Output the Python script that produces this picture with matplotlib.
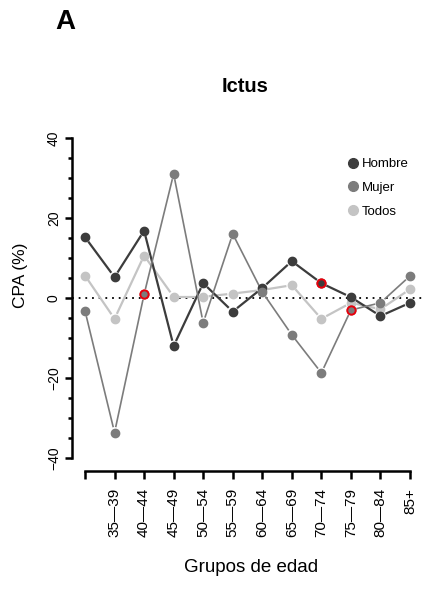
import matplotlib
matplotlib.use('Agg')
import matplotlib.pyplot as plt
import numpy as np
from matplotlib.lines import Line2D

# age groups (first group has no printed label in the original)
grupos = ['', '35—39', '40—44', '45—49', '50—54', '55—59', '60—64',
          '65—69', '70—74', '75—79', '80—84', '85+']

# CPA (%) by age group
hombre = [15.2, 5.2, 16.8, -12.0, 3.7, -3.4, 2.5, 9.2, 3.7, 0.2, -4.5, -1.2]
mujer = [-3.2, -33.6, 0.9, 31.0, -6.2, 16.0, 1.5, -9.2, -18.7, -3.0, -1.2, 5.5]
todos = [5.6, -5.2, 10.6, 0.3, 0.3, 1.1, 2.0, 3.2, -5.2, -1.2, -2.8, 2.2]

# points flagged in red
red_hombre = [8]
red_mujer = [2, 9]

regular = ['Liberation Sans', 'DejaVu Sans']

c_h, c_m, c_t = '#3c3c3c', '#7c7c7c', '#c4c4c4'

fig = plt.figure(figsize=(4.26, 5.92), dpi=100)
ax = fig.add_axes([72 / 426, 1 - 471 / 592, 351 / 426, 346 / 592])
ax.set_xlim(-0.44, 11.44)
ax.set_ylim(-43.2, 43.2)
x = np.arange(len(grupos))

ax.axhline(0, color='black', lw=1.3, ls=(0, (1, 2.7)), zorder=1)


def draw(vals, col, lw, red, gap=5.5):
    # R type="b": segments stop short of the points
    pts = ax.transData.transform(np.column_stack([x, vals]))
    inv = ax.transData.inverted()
    for p0, p1 in zip(pts[:-1], pts[1:]):
        d = p1 - p0
        n = np.hypot(*d)
        if n <= 2 * gap:
            continue
        u = d / n
        seg = inv.transform(np.array([p0 + u * gap, p1 - u * gap]))
        ax.plot(seg[:, 0], seg[:, 1], color=col, lw=lw, zorder=2,
                solid_capstyle='butt')
    ax.plot(x, vals, ls='none', marker='o', ms=6, color=col,
            markeredgecolor=col, zorder=3)
    for i in red:
        ax.plot(x[i], vals[i], ls='none', marker='o', ms=6, color=col,
                markeredgecolor='#e8000b', markeredgewidth=1.4, zorder=4)


draw(todos, c_t, 1.6, [])
draw(hombre, c_h, 1.6, red_hombre)
draw(mujer, c_m, 1.2, red_mujer)

for s in ['top', 'right']:
    ax.spines[s].set_visible(False)
ax.spines['left'].set_bounds(-40, 40)
ax.spines['bottom'].set_bounds(0, 11)
ax.spines['left'].set_linewidth(1.8)
ax.spines['bottom'].set_linewidth(1.8)

ax.set_yticks([-40, -20, 0, 20, 40])
ax.set_yticklabels(['−40', '−20', '0', '20', '40'], family=regular, fontsize=10)
ax.set_yticks(range(-40, 41, 5), minor=True)
ax.tick_params(axis='y', which='major', length=5, width=1.8, pad=3, labelrotation=90)
ax.tick_params(axis='y', which='minor', length=3, width=1.8)
for lab in ax.get_yticklabels():
    lab.set_va('center')

ax.set_xticks(x)
ax.set_xticklabels(grupos, family=regular, fontsize=11, rotation=90)
ax.tick_params(axis='x', length=6, width=1.8, pad=6)

fig.text(20 / 426, 1 - 275 / 592, 'CPA (%)', rotation=90, ha='center', va='center',
         family=regular, fontsize=12.5)
fig.text(251 / 426, 1 - 568 / 592, 'Grupos de edad', ha='center', va='center',
         family=regular, fontsize=13.5)
fig.text(245 / 426, 1 - 87 / 592, 'Ictus', ha='center', va='center',
         family=regular, fontsize=14.5, fontweight='bold')
fig.text(65 / 426, 1 - 22 / 592, 'A', ha='center', va='center',
         family=regular, fontsize=20, fontweight='bold')

handles = [Line2D([], [], ls='none', marker='o', ms=7, color=c)
           for c in (c_h, c_m, c_t)]
ax.legend(handles, ['Hombre', 'Mujer', 'Todos'], loc='upper left',
          bbox_to_anchor=(349 / 426, 1 - 158 / 592), bbox_transform=fig.transFigure,
          frameon=False, handlelength=0.6, handletextpad=0.4, labelspacing=0.88,
          borderpad=0, borderaxespad=0, prop={'family': regular, 'size': 9.5})

fig.savefig('out.png', dpi=100)
